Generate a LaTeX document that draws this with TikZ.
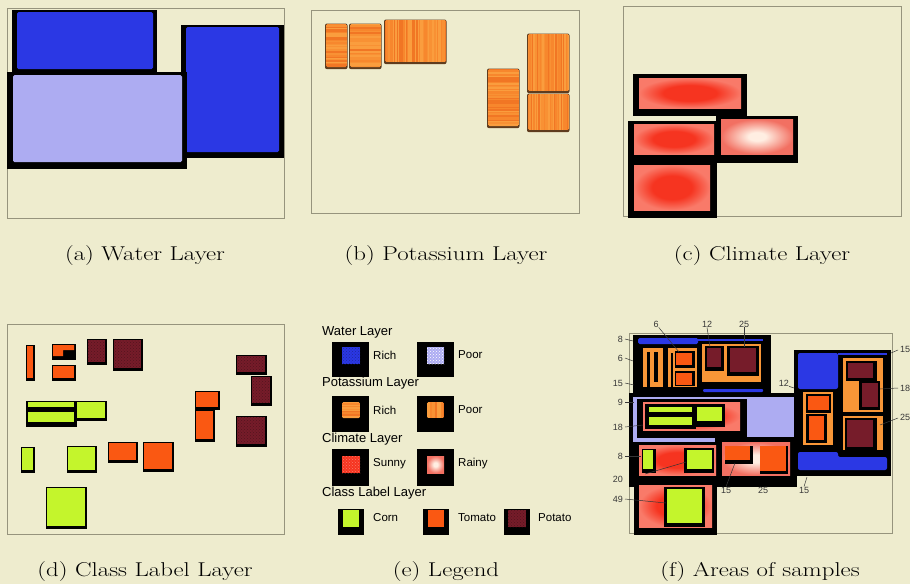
\documentclass[tikz,border=0pt]{standalone}
\usepackage{graphicx}
\usepackage{fontspec}
\newfontfamily\lsans{Liberation Sans}
\usetikzlibrary{patterns}

\definecolor{bgc}{RGB}{238,236,206}
\definecolor{framec}{RGB}{150,148,125}
\definecolor{wblue}{RGB}{43,56,228}
\definecolor{wpoor}{RGB}{173,172,242}
\definecolor{potbase}{RGB}{246,134,44}
\definecolor{stripeA}{RGB}{247,135,45}
\definecolor{stripeB}{RGB}{250,157,62}
\definecolor{stripeC}{RGB}{241,118,36}
\definecolor{stripeD}{RGB}{248,145,52}
\definecolor{potshadow}{RGB}{95,60,30}
\definecolor{fpot}{RGB}{248,150,55}
\definecolor{sunC}{RGB}{246,52,32}
\definecolor{sunE}{RGB}{249,122,105}
\definecolor{rainC}{RGB}{255,238,226}
\definecolor{rainE}{RGB}{242,112,98}
\definecolor{corn}{RGB}{196,245,44}
\definecolor{tomato}{RGB}{250,88,18}
\definecolor{potato}{RGB}{118,28,42}
\definecolor{lblc}{RGB}{55,55,55}

\pgfdeclareradialshading{sunny}{\pgfpoint{0bp}{0bp}}{color(0bp)=(sunC); color(13bp)=(sunC); color(25bp)=(sunE); color(50bp)=(sunE)}
\pgfdeclareradialshading{rainy}{\pgfpoint{0bp}{0bp}}{color(0bp)=(rainC); color(6bp)=(rainC); color(25bp)=(rainE); color(50bp)=(rainE)}
\pgfmathdeclarerandomlist{stripecols}{{stripeA}{stripeB}{stripeC}{stripeD}}

% striped orange fill (h = horizontal stripes, v = vertical stripes)
\newcommand\stripefill[5]{%
  \begin{scope}
    \clip[rounded corners=1.5] (#1,#2) rectangle (#3,#4);
    \fill[potbase] (#1,#2) rectangle (#3,#4);
    \if h#5
      \foreach \i in {0,...,45}{\pgfmathrandomitem{\c}{stripecols}\fill[\c] (#1,#2+\i*1.3) rectangle (#3,#2+\i*1.3+1.3);}
    \else
      \foreach \i in {0,...,50}{\pgfmathrandomitem{\c}{stripecols}\fill[\c] (#1+\i*1.3,#2) rectangle (#1+\i*1.3+1.3,#4);}
    \fi
  \end{scope}}
% potassium patch with its dark rim
\newcommand\potpatch[5]{%
  \fill[potshadow,rounded corners=2] (#1-1,#2-0.5) rectangle (#3+0.5,#4+2.2);
  \stripefill{#1}{#2}{#3}{#4}{#5}}
% class label patch: black shadow under a coloured square
\newcommand\clpatch[5]{%
  \fill[black] (#2,#3) rectangle (#4,#5);
  \path[#1] (#2+1,#3+1) rectangle (#4-2.5,#5-3.5);}
% caption text, set wide
\newcommand\captxt[1]{\scalebox{1.24}[1]{#1}}

\tikzset{
  framebox/.style={draw=framec, line width=0.8},
  cornfill/.style={fill=corn},
  tomfill/.style={fill=tomato},
  potfill/.style={fill=potato, postaction={pattern=crosshatch dots, pattern color=potato!70!black}},
  captext/.style={font=\fontsize{20}{24}\selectfont, inner sep=0},
  lghead/.style={font=\lsans\fontsize{13}{15}\selectfont, anchor=west, inner sep=0},
  lgtext/.style={font=\lsans\fontsize{11.5}{13}\selectfont, anchor=west, inner sep=0},
  num/.style={font=\lsans\fontsize{9}{10}\selectfont, text=lblc, inner sep=0},
  lead/.style={draw=lblc, line width=0.5},
}

\begin{document}
\begin{tikzpicture}[x=1pt,y=-1pt]
\pgfmathsetseed{12}
\fill[bgc] (0,0) rectangle (910,584);
\useasboundingbox (0,0) rectangle (910,584);

% ---------- (a) water layer ----------
\draw[framebox] (7,8) rectangle (284,218);
\fill[black] (12,10) rectangle (157,72);
\fill[wblue, rounded corners=1.5] (17,12) rectangle (153,69);
\fill[black] (181,25) rectangle (284,158);
\fill[wblue, rounded corners=1.5] (186,27) rectangle (279,152);
\fill[black] (7,72) rectangle (187,169);
\fill[wpoor, rounded corners=1.5] (13,75) rectangle (182,162);

% ---------- (b) potassium layer ----------
\draw[framebox] (311,10) rectangle (579,213);
\potpatch{326}{24}{347}{67}{h}
\potpatch{350}{24}{381}{67}{h}
\potpatch{385}{20}{446}{62}{v}
\potpatch{488}{69}{519}{126}{h}
\potpatch{528}{34}{569}{91}{v}
\potpatch{528}{94}{569}{130}{v}

% ---------- (c) climate layer ----------
\draw[framebox] (623,6) rectangle (901,216);
\fill[black] (633,74) rectangle (747,116);
\shade[shading=sunny] (639,78) rectangle (741,108);
\fill[black] (628,121) rectangle (716,162);
\shade[shading=sunny] (634,124) rectangle (714,154);
\fill[black] (716,116) rectangle (798,163);
\shade[shading=rainy] (721,119) rectangle (793,154);
\fill[black] (628,162) rectangle (717,218);
\shade[shading=sunny] (634,165) rectangle (710,210);

% ---------- (d) class label layer ----------
\draw[framebox] (7,324) rectangle (284,534);
\clpatch{tomfill}{26}{345}{35}{381}
\fill[black] (52,344) rectangle (76,360);
\fill[tomato] (53,345) -- (74,345) -- (74,350) -- (63,350) -- (63,356) -- (53,356) -- cycle;
\clpatch{tomfill}{52}{365}{76}{381}
\clpatch{potfill}{87}{339}{107}{365}
\clpatch{potfill}{113}{339}{143}{371}
\fill[black] (26,401) rectangle (77,427);
\fill[corn] (28,402) rectangle (74,407);
\fill[corn] (28,412) rectangle (74,422);
\clpatch{cornfill}{76}{401}{107}{421}
\clpatch{cornfill}{21}{447}{35}{473}
\clpatch{cornfill}{67}{446}{97}{473}
\clpatch{tomfill}{108}{442}{138}{463}
\clpatch{tomfill}{143}{442}{174}{472}
\clpatch{cornfill}{46}{487}{87}{529}
\clpatch{tomfill}{195}{391}{220}{410}
\clpatch{tomfill}{195}{410}{215}{442}
\clpatch{potfill}{236}{355}{267}{375}
\clpatch{potfill}{251}{376}{272}{406}
\clpatch{potfill}{236}{416}{267}{447}

% ---------- (e) legend ----------
\node[lghead] (hWater) at (322,332) {Water Layer};
\fill[black] (332,342) rectangle (369,377);
\fill[wblue, postaction={pattern=crosshatch dots, pattern color=wblue!70!black}] (342,347) rectangle (360,364);
\node[lgtext] (tWRich) at (373,355) {Rich};
\fill[black] (417,342) rectangle (454,377);
\fill[wpoor, postaction={pattern=crosshatch dots, pattern color=white}] (427,347) rectangle (444,364);
\node[lgtext] (tWPoor) at (458,355) {Poor};

\node[lghead] (hPot) at (322,383) {Potassium Layer};
\fill[black] (332,396) rectangle (369,432);
\stripefill{342}{402}{360}{418}{h}
\node[lgtext] (tPRich) at (373,410) {Rich};
\fill[black] (417,396) rectangle (454,432);
\stripefill{427}{402}{444}{418}{v}
\node[lgtext] (tPPoor) at (458,410) {Poor};

\node[lghead] (hClim) at (322,439) {Climate Layer};
\fill[black] (332,449) rectangle (369,486);
\fill[sunC, postaction={pattern=crosshatch dots, pattern color=sunE}] (342,456) rectangle (360,473);
\node[lgtext] (tSunny) at (373,464) {Sunny};
\fill[black] (417,449) rectangle (454,486);
\shade[shading=rainy] (427,456) rectangle (444,473);
\node[lgtext] (tRainy) at (458,464) {Rainy};

\node[lghead] (hClass) at (322,493) {Class Label Layer};
\fill[black] (338,509) rectangle (364,535);
\fill[corn] (343,510) rectangle (359,527);
\node[lgtext] (tCorn) at (373,518) {Corn};
\fill[black] (423,509) rectangle (449,535);
\fill[tomato] (428,510) rectangle (444,527);
\node[lgtext] (tTomato) at (458,518) {Tomato};
\fill[black] (504,509) rectangle (530,535);
\path[potfill] (508,510) rectangle (526,527);
\node[lgtext] (tPotato) at (538,518) {Potato};

% ---------- (f) areas of samples ----------
\draw[framebox] (629,333) rectangle (892,533);
% upper left block
\fill[black] (633,335) rectangle (771,393);
\fill[wblue, rounded corners=1.5] (638,338) rectangle (698,344);
\fill[wblue] (698,339) rectangle (763,341);
\fill[wblue, rounded corners=1] (703,389) rectangle (763,392);
\fill[fpot] (643,348) rectangle (663,387);
\fill[black] (647,352) rectangle (650,387);
\fill[black] (654,352) rectangle (658,382);
\fill[fpot] (668,348) rectangle (697,387);
\fill[black] (671,353) rectangle (673,387);
\fill[black] (675,351) rectangle (695,368);
\fill[tomato] (676,353) rectangle (692,365);
\fill[black] (675,371) rectangle (695,386);
\fill[tomato] (676,373) rectangle (692,385);
\fill[fpot] (702,344) rectangle (761,382);
\fill[black] (705,346) rectangle (724,371);
\fill[potato] (707,348) rectangle (721,367);
\fill[black] (727,346) rectangle (759,376);
\fill[potato] (730,348) rectangle (756,372);
% middle block
\fill[black] (629,393) rectangle (797,487);
\fill[wpoor] (633,397) rectangle (747,399);
\fill[wpoor] (633,397) rectangle (637,442);
\fill[wpoor] (633,438) rectangle (715,442);
\fill[wpoor] (747,397) rectangle (794,437);
\shade[shading=sunny] (643,402) rectangle (740,430);
\fill[black] (645,404) rectangle (696,429);
\fill[corn] (649,407) rectangle (692,412);
\fill[corn] (649,417) rectangle (692,425);
\fill[black] (696,404) rectangle (725,427);
\fill[corn] (697,407) rectangle (722,421);
\shade[shading=sunny] (639,445) rectangle (716,475);
\fill[black] (642,449) rectangle (656,473);
\fill[corn] (643,450) rectangle (653,469);
\fill[black] (684,448) rectangle (714,473);
\fill[corn] (687,450) rectangle (712,469);
\shade[shading=rainy] (722,442) rectangle (790,475);
\fill[black] (725,446) rectangle (753,464);
\fill[tomato] (725,446) rectangle (750,460);
\fill[black] (760,446) rectangle (788,474);
\fill[tomato] (760,446) rectangle (786,471);
% bottom block
\fill[black] (634,482) rectangle (717,535);
\shade[shading=sunny] (639,485) rectangle (712,527);
\fill[black] (664,487) rectangle (705,527);
\fill[corn] (667,489) rectangle (702,523);
% right block
\fill[black] (794,350) rectangle (891,476);
\fill[wblue, rounded corners=2] (798,353) rectangle (838,389);
\fill[wblue] (838,353) rectangle (887,355);
\fill[wblue, rounded corners=2] (798,452) -- (838,452) -- (838,457) -- (887,457) -- (887,470) -- (798,470) -- cycle;
\fill[fpot] (803,392) rectangle (833,445);
\fill[black] (806,394) rectangle (831,413);
\fill[tomato] (808,396) rectangle (829,410);
\fill[black] (806,414) rectangle (827,443);
\fill[tomato] (809,416) rectangle (824,440);
\fill[fpot] (843,358) rectangle (883,412);
\fill[black] (846,361) rectangle (877,381);
\fill[potato] (848,363) rectangle (873,378);
\fill[black] (859,381) rectangle (880,410);
\fill[potato] (862,383) rectangle (878,407);
\fill[fpot] (843,416) rectangle (883,450);
\fill[black] (845,418) rectangle (877,450);
\fill[potato] (847,420) rectangle (873,447);

% area labels with leader lines
\node[num, anchor=east] (nL8a) at (623,339) {8};
\coordinate (pL8a) at (633,341);
\draw[lead] (nL8a.east) ++(2,0) -- (pL8a);
\node[num, anchor=east] (nL6) at (623,358) {6};
\coordinate (pL6) at (633,361);
\draw[lead] (nL6.east) ++(2,0) -- (pL6);
\node[num, anchor=east] (nL15) at (623,383) {15};
\coordinate (pL15) at (634,385);
\draw[lead] (nL15.east) ++(2,0) -- (pL15);
\node[num, anchor=east] (nL9) at (623,402) {9};
\coordinate (pL9) at (634,402);
\draw[lead] (nL9.east) ++(2,0) -- (pL9);
\node[num, anchor=east] (nL18) at (623,427) {18};
\coordinate (pL18) at (643,425);
\draw[lead] (nL18.east) ++(2,0) -- (pL18);
\node[num, anchor=east] (nL8b) at (623,456) {8};
\coordinate (pL8b) at (641,456);
\draw[lead] (nL8b.east) ++(2,0) -- (pL8b);
\node[num, anchor=east] (nL20) at (623,479) {20};
\node[num, anchor=east] (nL49) at (623,499) {49};
\coordinate (pL49) at (666,503);
\draw[lead] (nL49.east) ++(2,0) -- (pL49);
\coordinate (p20a) at (645,474);
\coordinate (p20b) at (686,462);
\draw[lead, draw=black!80] (p20a) -- (p20b);

\node[num] (nT6) at (656,324) {6};
\coordinate (pT6) at (679,352);
\draw[lead] (nT6.south east) -- (pT6);
\node[num] (nT12) at (707,324) {12};
\coordinate (pT12) at (710,347);
\draw[lead] (nT12.south) -- (pT12);
\node[num] (nT25) at (744,324) {25};
\coordinate (pT25) at (744,347);
\draw[lead] (nT25.south) -- (pT25);

\node[num, anchor=west] (nR15) at (900,349) {15};
\coordinate (pR15) at (891,353);
\draw[lead] (nR15.west) ++(-2,1) -- (pR15);
\node[num, anchor=west] (nR18) at (900,388) {18};
\coordinate (pR18) at (880,389);
\draw[lead] (nR18.west) ++(-2,0) -- (pR18);
\node[num, anchor=west] (nR25) at (900,417) {25};
\coordinate (pR25) at (880,425);
\draw[lead] (nR25.west) ++(-2,1) -- (pR25);
\node[num, anchor=east] (nM12) at (789,383) {12};
\coordinate (pM12) at (794,388);
\draw[lead] (nM12.south east) -- (pM12);

\node[num] (nB15a) at (726,490) {15};
\coordinate (pB15a) at (735,463);
\draw[lead] (nB15a.north) -- (pB15a);
\node[num] (nB25) at (763,490) {25};
\node[num] (nB15b) at (804,490) {15};
\coordinate (pB15b) at (807,477);
\draw[lead] (nB15b.north) -- (pB15b);

% ---------- captions ----------
\node[captext] (capA) at (145,256) {\captxt{(a) Water Layer}};
\node[captext] (capB) at (446,256) {\captxt{(b) Potassium Layer}};
\node[captext] (capC) at (762,256) {\captxt{(c) Climate Layer}};
\node[captext] (capD) at (145,572) {\captxt{(d) Class Label Layer}};
\node[captext] (capE) at (446,572) {\captxt{(e) Legend}};
\node[captext] (capF) at (760,572) {\captxt{(f) Areas of samples}};
\end{tikzpicture}
\end{document}
